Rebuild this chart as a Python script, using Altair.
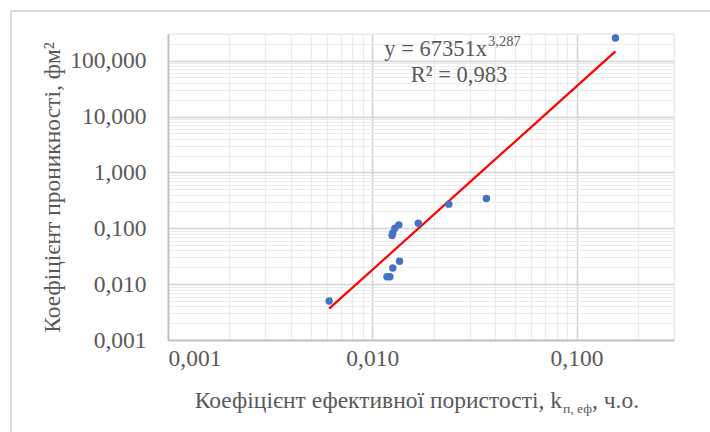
import altair as alt
import pandas as pd

# Effective porosity (fraction) vs. permeability (fm^2) samples
porosity = [0.00615, 0.0118, 0.0122, 0.0126, 0.0136, 0.0125, 0.0126,
            0.0129, 0.0135, 0.0168, 0.0237, 0.0362, 0.155]
permeability = [0.005, 0.0136, 0.0136, 0.0195, 0.0257, 0.074, 0.082,
                0.100, 0.115, 0.123, 0.27, 0.34, 255.0]

# Power trendline y = A * x^B
coef_a = 67351
coef_b = 3.287
r_squared = 0.983

x_domain = [0.001, 0.3]
y_domain = [0.001, 300]

FONT = "'Liberation Serif', 'Times New Roman', 'DejaVu Serif', serif"
TXT = "#595959"
BIG = 23.5

df = pd.DataFrame({"x": porosity, "y": permeability})
trend = pd.DataFrame({"x": [min(porosity), max(porosity)]})
trend["y"] = coef_a * trend["x"] ** coef_b


def log_grid(lo, hi):
    vals = []
    e = -3
    while 10 ** e <= hi:
        for m in range(1, 10):
            v = round(m * 10 ** e, 6)
            if lo <= v <= hi:
                vals.append(v)
        e += 1
    return vals


major_test = "abs(log(datum.value)/LN10 - round(log(datum.value)/LN10)) < 0.001"
label_expr = f"({major_test}) ? replace(format(datum.value, '.3f'), '.', ',') : ''"

grid_color = {"condition": {"test": major_test, "value": "#d4d4d4"}, "value": "#ececec"}
grid_width = {"condition": {"test": major_test, "value": 1.6}, "value": 1.2}

x_axis = alt.Axis(
    values=log_grid(*x_domain), labelExpr=label_expr, labelOverlap=False,
    labelFont=FONT, labelFontSize=BIG, labelColor=TXT, labelPadding=6,
    ticks=False, domainColor="#bfbfbf", domainWidth=1.6,
    grid=True, gridColor=grid_color, gridWidth=grid_width, title=None,
)
y_axis = alt.Axis(
    values=log_grid(*y_domain), labelExpr=label_expr, labelOverlap=False,
    labelFont=FONT, labelFontSize=BIG, labelColor=TXT, labelPadding=22,
    ticks=False, domainColor="#bfbfbf", domainWidth=1.6,
    grid=True, gridColor=grid_color, gridWidth=grid_width,
    title="Коефіцієнт проникності, фм²", titleFont=FONT, titleFontSize=BIG,
    titleFontWeight="normal", titleColor=TXT, titleAngle=270,
    titleAlign="center", titleBaseline="middle", titleX=-116, titleY=153,
)

x_enc = alt.X("x:Q", scale=alt.Scale(type="log", domain=x_domain, nice=False), axis=x_axis)
y_enc = alt.Y("y:Q", scale=alt.Scale(type="log", domain=y_domain, nice=False), axis=y_axis)

points = alt.Chart(df).mark_circle(size=55, color="#4472C4", opacity=1).encode(
    x=x_enc, y=y_enc
)

trend_line = alt.Chart(trend).mark_line(color="#ff0000", strokeWidth=2.2).encode(
    x="x:Q", y="y:Q"
)


def label(text, x, y, size=BIG, align="left", baseline="alphabetic"):
    return alt.Chart(pd.DataFrame({"t": [text]})).mark_text(
        font=FONT, fontSize=size, color=TXT, align=align, baseline=baseline
    ).encode(text="t:N", x=alt.value(x), y=alt.value(y))


r2_text = "R² = " + f"{r_squared:.3f}".replace(".", ",")
eq_main = f"y = {coef_a}x"
eq_sup = f"{coef_b}".replace(".", ",")

annotations = [
    label(eq_main, 319, 22, size=22.5, align="right"),
    label(eq_sup, 320, 12, size=14.5, align="left"),
    label(r2_text, 291, 48, size=22.5, align="center"),
    label("Коефіцієнт ефективної пористості, k", 394, 374, align="right"),
    label("п, еф", 395, 379, size=13.5, align="left"),
    label(", ч.о.", 424, 374, align="left"),
]

frame = alt.Chart(pd.DataFrame({"a": [0]})).mark_rect(
    filled=False, stroke="#d9d9d9", strokeWidth=2
).encode(x=alt.value(-157), x2=alt.value(560), y=alt.value(-23), y2=alt.value(420))

chart = alt.layer(frame, trend_line, points, *annotations).properties(
    width=506, height=306,
    autosize=alt.AutoSizeParams(type="none"),
    padding={"left": 168, "top": 34, "right": 36, "bottom": 92},
    background="white",
).configure_view(stroke="#e6e6e6", strokeWidth=1.3)

chart.save("out.html", embed_options={"renderer": "svg", "actions": False})
